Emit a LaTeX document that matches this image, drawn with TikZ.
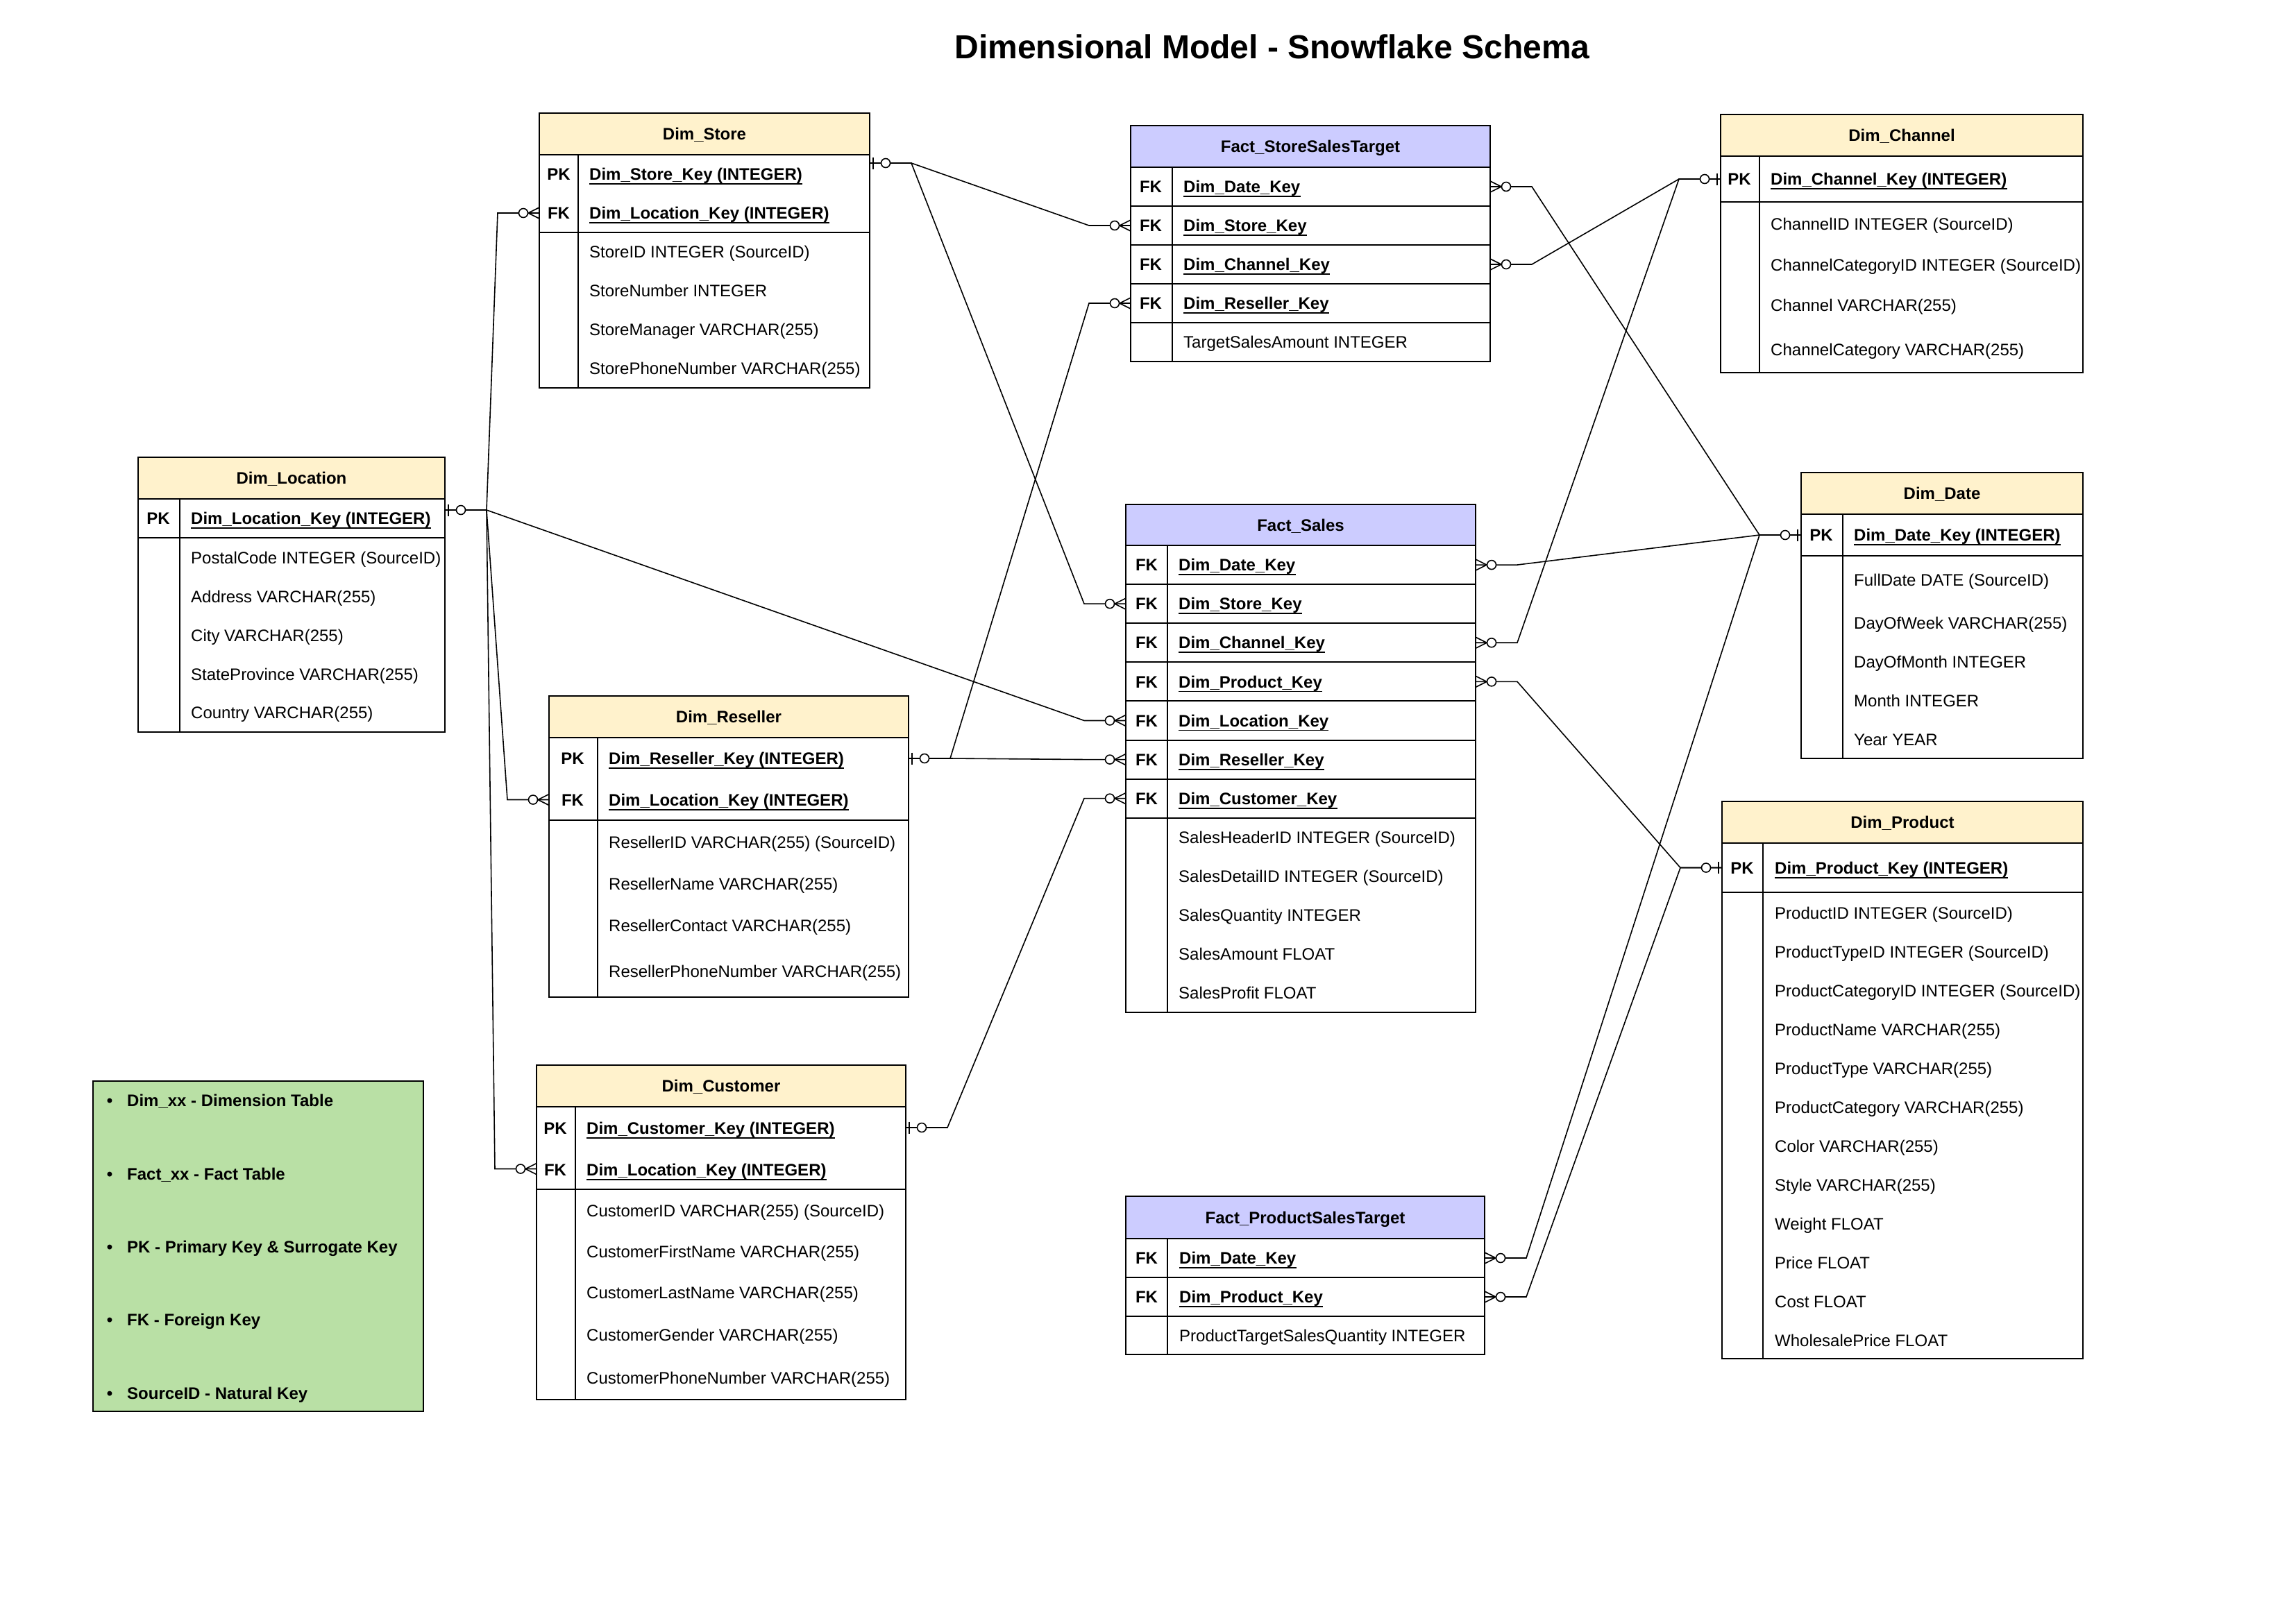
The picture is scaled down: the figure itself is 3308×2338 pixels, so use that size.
\documentclass[tikz,border=0pt]{standalone}
\usepackage{fontspec}
\setmainfont{Liberation Sans}
\usetikzlibrary{calc}
\definecolor{dimhead}{HTML}{FFF2CC}
\definecolor{facthead}{HTML}{CCCCFF}
\definecolor{legendfill}{HTML}{B9E0A5}
\newcounter{tn}
\tikzset{
  tabline/.style={line width=2pt},
  conline/.style={line width=1.6pt},
  tabhead/.style={draw, line width=2pt, inner sep=0pt, outer sep=0pt, text height=17.2pt, text depth=0pt,
    font=\bfseries\fontsize{24}{28}\selectfont},
  tabbody/.style={draw, line width=2pt, inner sep=0pt, outer sep=0pt},
  rowbox/.style={inner sep=0pt, outer sep=0pt},
  ftxt/.style={anchor=west, inner sep=0pt, text height=17.2pt, text depth=0pt, font=\fontsize{24}{28}\selectfont},
  ktxt/.style={anchor=west, inner sep=0pt, text height=17.2pt, text depth=0pt, font=\bfseries\fontsize{24}{28}\selectfont},
  ltxt/.style={anchor=center, inner sep=0pt, text height=17.2pt, text depth=0pt, font=\bfseries\fontsize{24}{28}\selectfont},
  zeroone/.pic={\draw[conline] (5,-8.5) -- (5,8.5); \draw[conline, fill=white] (23,0) circle (6.5);},
  zeromany/.pic={\draw[conline] (0,-8) -- (16,0) -- (0,8); \draw[conline, fill=white] (23,0) circle (6.5);}
}
% table frame: name, x, ytop, width, y header bottom, y bottom, fill, title, column x
\newcommand\ertab[9]{%
  \node[tabhead, fill=#7, minimum width=#4, minimum height={#5-#3}, anchor=north west] (#1) at (#2,#3) {#8};
  \node[tabbody, minimum width=#4, minimum height={#6-#5}, anchor=north west] (#1-body) at (#2,#5) {};
  \draw[tabline] (#9,#5) -- (#9,#6);}
% row node: name, x, ytop, width, height
\newcommand\erow[5]{\node[rowbox, minimum width=#4, minimum height=#5, anchor=north west] (#1) at (#2,#3) {};}
\newcommand\sepline[3]{\draw[tabline] (#1,#2) -- ++(#3,0);}
\newcommand\ft[3]{\stepcounter{tn}\node[ftxt] (t\thetn) at (#1,#2) {#3};}
\newcommand\bt[3]{\stepcounter{tn}\node[ktxt] (t\thetn) at (#1,#2) {#3};}
\newcommand\kt[3]{\stepcounter{tn}\node[ktxt] (t\thetn) at (#1,#2) {#3};
  \draw[line width=1.8pt] ($(t\thetn.west)+(0,14)$) -- ($(t\thetn.east)+(0,14)$);}
\newcommand\lb[3]{\stepcounter{tn}\node[ltxt] (t\thetn) at (#1,#2) {#3};}
% connector: from, to, from direction, to direction
\newcommand\conn[4]{\draw[conline] (#1) -- ++(#3*60,0) -- ($(#2)+(#4*60,0)$) -- (#2);}

\begin{document}
\begin{tikzpicture}[x=1pt,y=-1pt]
\useasboundingbox (0,0) rectangle (3308,2338);
\fill[white] (0,0) rectangle (3308,2338);

\node[font=\bfseries\fontsize{48}{56}\selectfont, inner sep=0pt, text height=34.4pt, text depth=0pt] (title) at (1833,67) {Dimensional Model - Snowflake Schema};

% ---------- row nodes (for connectors) ----------
\erow{store-pk}{777}{223}{476}{56}
\erow{store-fk}{777}{279}{476}{56}
\erow{loc-pk}{199}{719}{442}{56}
\erow{res-pk}{791}{1063}{518}{60}
\erow{res-fk}{791}{1123}{518}{59}
\erow{cus-pk}{773}{1595}{532}{60}
\erow{cus-fk}{773}{1655}{532}{59}
\erow{fss-date}{1629}{241}{518}{56}
\erow{fss-store}{1629}{297}{518}{56}
\erow{fss-chn}{1629}{353}{518}{56}
\erow{fss-res}{1629}{409}{518}{56}
\erow{fs-date}{1622}{786}{504}{56.1}
\erow{fs-store}{1622}{842.1}{504}{56.1}
\erow{fs-chn}{1622}{898.2}{504}{56.1}
\erow{fs-prd}{1622}{954.3}{504}{56.1}
\erow{fs-loc}{1622}{1010.4}{504}{56.1}
\erow{fs-res}{1622}{1066.5}{504}{56.1}
\erow{fs-cus}{1622}{1122.6}{504}{56.1}
\erow{fps-date}{1622}{1785}{517}{56}
\erow{fps-prd}{1622}{1841}{517}{56}
\erow{chn-pk}{2479}{225}{522}{66}
\erow{dat-pk}{2595}{741}{406}{60}
\erow{prd-pk}{2481}{1215}{520}{71}

\coordinate (store-pkc) at ($(store-pk.east)+(0,-16)$);
\coordinate (loc-pkc) at ($(loc-pk.east)+(0,-12)$);

% ---------- connectors ----------
\conn{store-pkc}{fss-store.west}{1}{-1}
\conn{store-pkc}{fs-store.west}{1}{-1}
\conn{loc-pkc}{store-fk.west}{1}{-1}
\conn{loc-pkc}{res-fk.west}{1}{-1}
\conn{loc-pkc}{cus-fk.west}{1}{-1}
\conn{loc-pkc}{fs-loc.west}{1}{-1}
\conn{res-pk.east}{fss-res.west}{1}{-1}
\conn{res-pk.east}{fs-res.west}{1}{-1}
\conn{cus-pk.east}{fs-cus.west}{1}{-1}
\conn{chn-pk.west}{fss-chn.east}{-1}{1}
\conn{chn-pk.west}{fs-chn.east}{-1}{1}
\conn{dat-pk.west}{fss-date.east}{-1}{1}
\conn{dat-pk.west}{fs-date.east}{-1}{1}
\conn{dat-pk.west}{fps-date.east}{-1}{1}
\conn{prd-pk.west}{fs-prd.east}{-1}{1}
\conn{prd-pk.west}{fps-prd.east}{-1}{1}

% ---------- markers ----------
\pic at (store-pkc) {zeroone};
\pic at (loc-pkc) {zeroone};
\pic at (res-pk.east) {zeroone};
\pic at (cus-pk.east) {zeroone};
\pic[xscale=-1] at (chn-pk.west) {zeroone};
\pic[xscale=-1] at (dat-pk.west) {zeroone};
\pic[xscale=-1] at (prd-pk.west) {zeroone};
\pic[xscale=-1] at (fss-store.west) {zeromany};
\pic[xscale=-1] at (fs-store.west) {zeromany};
\pic[xscale=-1] at (store-fk.west) {zeromany};
\pic[xscale=-1] at (res-fk.west) {zeromany};
\pic[xscale=-1] at (cus-fk.west) {zeromany};
\pic[xscale=-1] at (fs-loc.west) {zeromany};
\pic[xscale=-1] at (fss-res.west) {zeromany};
\pic[xscale=-1] at (fs-res.west) {zeromany};
\pic[xscale=-1] at (fs-cus.west) {zeromany};
\pic at (fss-chn.east) {zeromany};
\pic at (fs-chn.east) {zeromany};
\pic at (fss-date.east) {zeromany};
\pic at (fs-date.east) {zeromany};
\pic at (fps-date.east) {zeromany};
\pic at (fs-prd.east) {zeromany};
\pic at (fps-prd.east) {zeromany};

% ---------- Dim_Store ----------
\ertab{store}{777}{163}{476}{223}{559}{dimhead}{Dim\_Store}{833}
\sepline{777}{335}{476}
\lb{805}{251}{PK}\kt{849}{251}{Dim\_Store\_Key (INTEGER)}
\lb{805}{307}{FK}\kt{849}{307}{Dim\_Location\_Key (INTEGER)}
\ft{849}{363}{StoreID INTEGER (SourceID)}
\ft{849}{419}{StoreNumber INTEGER}
\ft{849}{475}{StoreManager VARCHAR(255)}
\ft{849}{531}{StorePhoneNumber VARCHAR(255)}

% ---------- Dim_Location ----------
\ertab{loc}{199}{659}{442}{719}{1055}{dimhead}{Dim\_Location}{259}
\sepline{199}{775}{442}
\lb{228}{747}{PK}\kt{275}{747}{Dim\_Location\_Key (INTEGER)}
\ft{275}{804}{PostalCode INTEGER (SourceID)}
\ft{275}{860}{Address VARCHAR(255)}
\ft{275}{916}{City VARCHAR(255)}
\ft{275}{972}{StateProvince VARCHAR(255)}
\ft{275}{1027}{Country VARCHAR(255)}

% ---------- Dim_Reseller ----------
\ertab{res}{791}{1003}{518}{1063}{1437}{dimhead}{Dim\_Reseller}{861}
\sepline{791}{1182}{518}
\lb{825}{1093}{PK}\kt{877}{1093}{Dim\_Reseller\_Key (INTEGER)}
\lb{825}{1153}{FK}\kt{877}{1153}{Dim\_Location\_Key (INTEGER)}
\ft{877}{1214}{ResellerID VARCHAR(255) (SourceID)}
\ft{877}{1274}{ResellerName VARCHAR(255)}
\ft{877}{1334}{ResellerContact VARCHAR(255)}
\ft{877}{1400}{ResellerPhoneNumber VARCHAR(255)}

% ---------- Dim_Customer ----------
\ertab{cus}{773}{1535}{532}{1595}{2017}{dimhead}{Dim\_Customer}{829}
\sepline{773}{1714}{532}
\lb{800}{1626}{PK}\kt{845}{1626}{Dim\_Customer\_Key (INTEGER)}
\lb{800}{1686}{FK}\kt{845}{1686}{Dim\_Location\_Key (INTEGER)}
\ft{845}{1745}{CustomerID VARCHAR(255) (SourceID)}
\ft{845}{1804}{CustomerFirstName VARCHAR(255)}
\ft{845}{1863}{CustomerLastName VARCHAR(255)}
\ft{845}{1924}{CustomerGender VARCHAR(255)}
\ft{845}{1986}{CustomerPhoneNumber VARCHAR(255)}

% ---------- Fact_StoreSalesTarget ----------
\ertab{fss}{1629}{181}{518}{241}{521}{facthead}{Fact\_StoreSalesTarget}{1689}
\sepline{1629}{297}{518}\sepline{1629}{353}{518}\sepline{1629}{409}{518}\sepline{1629}{465}{518}
\lb{1658}{269}{FK}\kt{1705}{269}{Dim\_Date\_Key}
\lb{1658}{325}{FK}\kt{1705}{325}{Dim\_Store\_Key}
\lb{1658}{381}{FK}\kt{1705}{381}{Dim\_Channel\_Key}
\lb{1658}{437}{FK}\kt{1705}{437}{Dim\_Reseller\_Key}
\ft{1705}{493}{TargetSalesAmount INTEGER}

% ---------- Fact_Sales ----------
\ertab{fs}{1622}{727}{504}{786}{1459}{facthead}{Fact\_Sales}{1682}
\sepline{1622}{842.1}{504}\sepline{1622}{898.2}{504}\sepline{1622}{954.3}{504}
\sepline{1622}{1010.4}{504}\sepline{1622}{1066.5}{504}\sepline{1622}{1122.6}{504}\sepline{1622}{1178.7}{504}
\lb{1652}{814}{FK}\kt{1698}{814}{Dim\_Date\_Key}
\lb{1652}{870.2}{FK}\kt{1698}{870.2}{Dim\_Store\_Key}
\lb{1652}{926.3}{FK}\kt{1698}{926.3}{Dim\_Channel\_Key}
\lb{1652}{982.4}{FK}\kt{1698}{982.4}{Dim\_Product\_Key}
\lb{1652}{1038.5}{FK}\kt{1698}{1038.5}{Dim\_Location\_Key}
\lb{1652}{1094.6}{FK}\kt{1698}{1094.6}{Dim\_Reseller\_Key}
\lb{1652}{1150.7}{FK}\kt{1698}{1150.7}{Dim\_Customer\_Key}
\ft{1698}{1206.8}{SalesHeaderID INTEGER (SourceID)}
\ft{1698}{1262.9}{SalesDetailID INTEGER (SourceID)}
\ft{1698}{1319}{SalesQuantity INTEGER}
\ft{1698}{1375.1}{SalesAmount FLOAT}
\ft{1698}{1431.2}{SalesProfit FLOAT}

% ---------- Fact_ProductSalesTarget ----------
\ertab{fps}{1622}{1724}{517}{1785}{1952}{facthead}{Fact\_ProductSalesTarget}{1682}
\sepline{1622}{1841}{517}\sepline{1622}{1897}{517}
\lb{1652}{1813}{FK}\kt{1699}{1813}{Dim\_Date\_Key}
\lb{1652}{1869}{FK}\kt{1699}{1869}{Dim\_Product\_Key}
\ft{1699}{1924.5}{ProductTargetSalesQuantity INTEGER}

% ---------- Dim_Channel ----------
\ertab{chn}{2479}{165}{522}{225}{537}{dimhead}{Dim\_Channel}{2535}
\sepline{2479}{291}{522}
\lb{2506}{258}{PK}\kt{2551}{258}{Dim\_Channel\_Key (INTEGER)}
\ft{2551}{323}{ChannelID INTEGER (SourceID)}
\ft{2551}{382}{ChannelCategoryID INTEGER (SourceID)}
\ft{2551}{440}{Channel VARCHAR(255)}
\ft{2551}{504}{ChannelCategory VARCHAR(255)}

% ---------- Dim_Date ----------
\ertab{dat}{2595}{681}{406}{741}{1093}{dimhead}{Dim\_Date}{2655}
\sepline{2595}{801}{406}
\lb{2624}{771}{PK}\kt{2671}{771}{Dim\_Date\_Key (INTEGER)}
\ft{2671}{836}{FullDate DATE (SourceID)}
\ft{2671}{898}{DayOfWeek VARCHAR(255)}
\ft{2671}{954}{DayOfMonth INTEGER}
\ft{2671}{1010}{Month INTEGER}
\ft{2671}{1066}{Year YEAR}

% ---------- Dim_Product ----------
\ertab{prd}{2481}{1155}{520}{1215}{1958}{dimhead}{Dim\_Product}{2540}
\sepline{2481}{1286}{520}
\lb{2510}{1251}{PK}\kt{2557}{1251}{Dim\_Product\_Key (INTEGER)}
\ft{2557}{1316}{ProductID INTEGER (SourceID)}
\ft{2557}{1372}{ProductTypeID INTEGER (SourceID)}
\ft{2557}{1428}{ProductCategoryID INTEGER (SourceID)}
\ft{2557}{1484}{ProductName VARCHAR(255)}
\ft{2557}{1540}{ProductType VARCHAR(255)}
\ft{2557}{1596}{ProductCategory VARCHAR(255)}
\ft{2557}{1652}{Color VARCHAR(255)}
\ft{2557}{1708}{Style VARCHAR(255)}
\ft{2557}{1764}{Weight FLOAT}
\ft{2557}{1820}{Price FLOAT}
\ft{2557}{1876}{Cost FLOAT}
\ft{2557}{1932}{WholesalePrice FLOAT}

% ---------- Legend ----------
\node[draw, line width=2pt, fill=legendfill, minimum width=476, minimum height=476, anchor=north west, inner sep=0pt] (legend) at (133,1557) {};
\lb{158}{1586}{•}\bt{183}{1586}{Dim\_xx - Dimension Table}
\lb{158}{1692}{•}\bt{183}{1692}{Fact\_xx - Fact Table}
\lb{158}{1797}{•}\bt{183}{1797}{PK - Primary Key \& Surrogate Key}
\lb{158}{1902}{•}\bt{183}{1902}{FK - Foreign Key}
\lb{158}{2008}{•}\bt{183}{2008}{SourceID - Natural Key}
\end{tikzpicture}
\end{document}
